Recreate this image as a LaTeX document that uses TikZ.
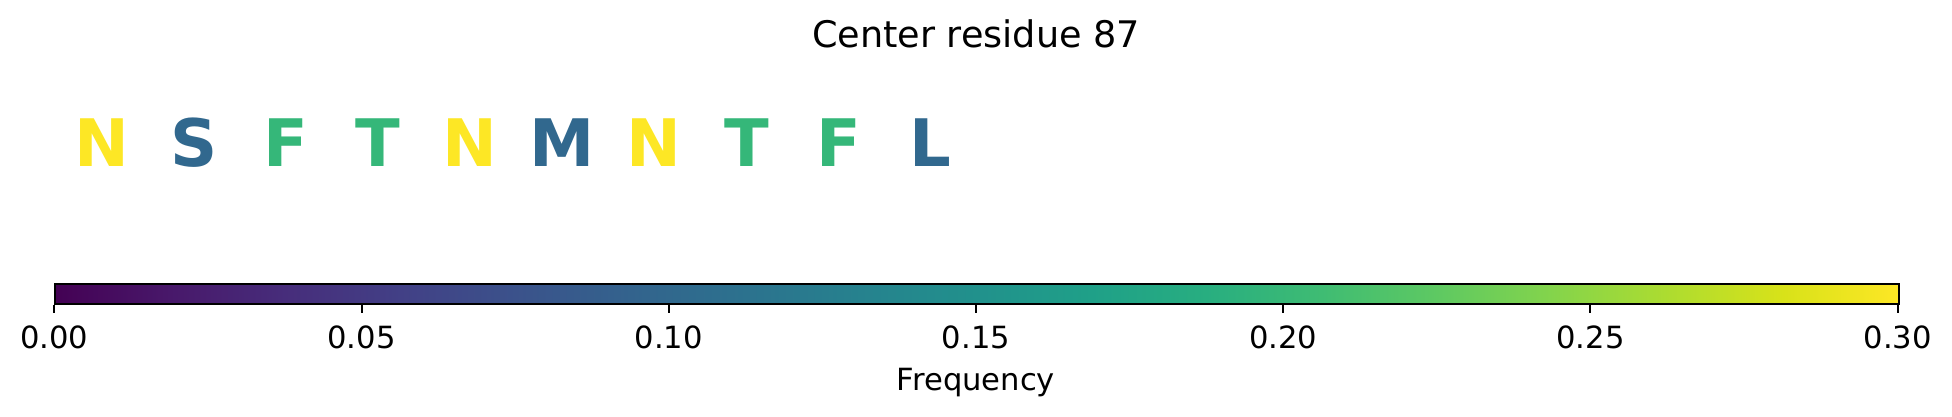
\documentclass[tikz,border=0pt]{standalone}
\usepackage{fontspec}
\setmainfont{DejaVu Sans}
\newfontfamily\boldletters{DejaVu Sans Bold}
\definecolor{vyellow}{HTML}{FDE725}
\definecolor{vblue}{HTML}{31688E}
\definecolor{vgreen}{HTML}{35B779}
\definecolor{v0}{HTML}{440154}
\definecolor{v1}{HTML}{48186A}
\definecolor{v2}{HTML}{472D7B}
\definecolor{v3}{HTML}{424086}
\definecolor{v4}{HTML}{3B528B}
\definecolor{v5}{HTML}{33638D}
\definecolor{v6}{HTML}{2C728E}
\definecolor{v7}{HTML}{26828E}
\definecolor{v8}{HTML}{21918C}
\definecolor{v9}{HTML}{1FA088}
\definecolor{v10}{HTML}{28AE80}
\definecolor{v11}{HTML}{3FBC73}
\definecolor{v12}{HTML}{5EC962}
\definecolor{v13}{HTML}{84D44B}
\definecolor{v14}{HTML}{ADDC30}
\definecolor{v15}{HTML}{D8E219}
\definecolor{v16}{HTML}{FDE725}
\begin{document}
\begin{tikzpicture}[x=1pt,y=1pt,
  letter/.style={anchor=base,inner sep=0pt,font=\boldletters\fontsize{65.5}{70}\selectfont},
  ticklab/.style={anchor=base,inner sep=0pt,font=\fontsize{30.6}{34}\selectfont},
  titlelab/.style={anchor=base,inner sep=0pt,font=\fontsize{36.6}{40}\selectfont},
  tickmark/.style={line width=2pt}]
\useasboundingbox[fill=white] (0,0) rectangle (1952,416);
\node[titlelab] (title) at (976,368.3) {Center residue 87};
% letters
\foreach \L/\c [count=\i from 0] in {N/vyellow,S/vblue,F/vgreen,T/vgreen,N/vyellow,M/vblue,N/vyellow,T/vgreen,F/vgreen,L/vblue}{
  \node[letter,text=\c] (let\i) at ({101.5+92.15*\i},249.3) {\L};
}
% colorbar
\def\cbl{54.3}\def\cbr{1897.7}\def\cbb{111.3}\def\cbt{131.3}
\pgfmathsetmacro{\seg}{(\cbr-\cbl)/16}
\pgfmathsetmacro{\sixth}{(\cbr-\cbl)/6}
\foreach \k [evaluate=\k as \kn using int(\k+1)] in {0,...,15}{
  \pgfmathsetmacro{\xa}{\cbl+\seg*\k}
  \pgfmathsetmacro{\xb}{\cbl+\seg*(\k+1)+0.6}
  \shade[left color=v\k,right color=v\kn] (\xa,\cbb) rectangle (\xb,\cbt);
}
\node[draw,line width=2pt,minimum width=1843.4pt,minimum height=20pt,inner sep=0pt,anchor=south west] (cbar) at (\cbl,\cbb) {};
\foreach \v [count=\j from 0] in {0.00,0.05,0.10,0.15,0.20,0.25,0.30}{
  \pgfmathsetmacro{\xt}{\cbl+\sixth*\j}
  \coordinate (tk\j) at (\xt,102.8);
  \draw[tickmark] (\xt,\cbb) -- (tk\j);
  \node[ticklab] (tl\j) at (\xt,67.5) {\v};
}
\node[ticklab] (freq) at (976,25.3) {Frequency};
\end{tikzpicture}
\end{document}
